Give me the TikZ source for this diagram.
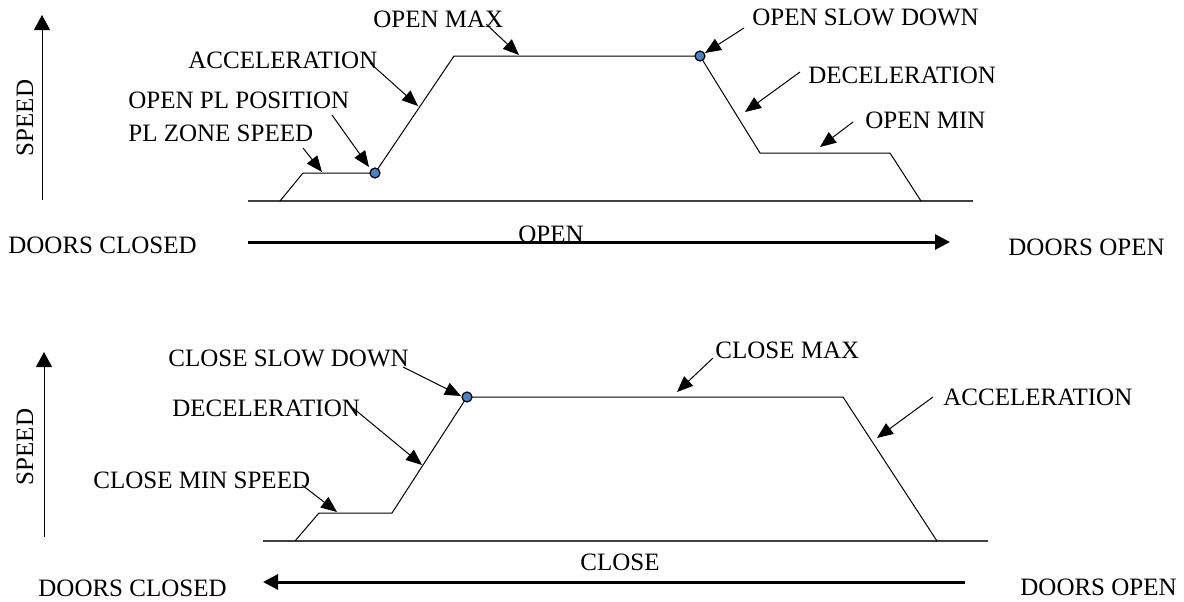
\documentclass[tikz,border=0pt]{standalone}
\usepackage{fontspec}
\setmainfont{Liberation Serif}
\usetikzlibrary{arrows.meta}
\definecolor{dotblue}{RGB}{70,130,200}
\begin{document}
\begin{tikzpicture}[x=0.5pt,y=-0.5pt,
  lbl/.style={inner sep=0pt,anchor=west,font=\fontsize{12.5}{14}\selectfont},
  prof/.style={line width=0.5pt},
  base/.style={line width=0.8pt,draw=black!75},
  leader/.style={line width=0.5pt,-{Triangle[length=8pt,width=6.5pt]}},
  axis/.style={line width=0.5pt,-{Triangle[length=7.5pt,width=8pt]}},
  dirarrow/.style={line width=1.5pt,-{Triangle[length=7.5pt,width=7.5pt]}},
  pt/.style={circle,draw=black,fill=dotblue,line width=0.6pt,inner sep=0pt,minimum size=5pt}]
\useasboundingbox (0,0) rectangle (1184,601);

% ===== TOP (OPEN) =====
\coordinate (ts0) at (42,200);
\coordinate (ts1) at (42,15);
\draw[axis] (ts0) -- (ts1);
\node[lbl,anchor=center,rotate=90] (tspeed) at (25,118) {SPEED};

\coordinate (tb0) at (248,201);
\coordinate (tb1) at (973,201);
\draw[base] (tb0) -- (tb1);

\coordinate (p1) at (280,201);
\coordinate (p2) at (303,173);
\coordinate (p3) at (375,173);
\coordinate (p4) at (454,56);
\coordinate (p5) at (700,56);
\coordinate (p6) at (760,153);
\coordinate (p7) at (890,153);
\coordinate (p8) at (921,201);
\draw[prof] (p1) -- (p2) -- (p3) -- (p4) -- (p5) -- (p6) -- (p7) -- (p8);

\node[lbl] (openmax) at (373,19) {OPEN MAX};
\node[lbl] (tacc) at (188,60) {ACCELERATION};
\node[lbl] (oplpos) at (128,100) {OPEN PL POSITION};
\node[lbl] (plzone) at (128,133) {PL ZONE SPEED};
\node[lbl] (oslow) at (752,17) {OPEN SLOW DOWN};
\node[lbl] (tdec) at (808,75) {DECELERATION};
\node[lbl] (omin) at (865,120) {OPEN MIN};

\coordinate (a1s) at (486,24);  \coordinate (a1e) at (519,55);
\coordinate (a2s) at (370,63);  \coordinate (a2e) at (418,106);
\coordinate (a3s) at (332,115); \coordinate (a3e) at (369,167);
\coordinate (a4s) at (303,148); \coordinate (a4e) at (322,172);
\coordinate (a5s) at (744,28);  \coordinate (a5e) at (705,53);
\coordinate (a6s) at (800,72);  \coordinate (a6e) at (745,112);
\coordinate (a7s) at (853,122); \coordinate (a7e) at (820,147);
\draw[leader] (a1s) -- (a1e);
\draw[leader] (a2s) -- (a2e);
\draw[leader] (a3s) -- (a3e);
\draw[leader] (a4s) -- (a4e);
\draw[leader] (a5s) -- (a5e);
\draw[leader] (a6s) -- (a6e);
\draw[leader] (a7s) -- (a7e);

\node[pt] (dot1) at (p3) {};
\node[pt] (dot2) at (p5) {};

\coordinate (oa0) at (248,242);
\coordinate (oa1) at (950,242);
\draw[dirarrow] (oa0) -- (oa1);
\node[lbl,anchor=base west] (opentxt) at (518,242) {OPEN};
\node[lbl] (dclosed1) at (8,245) {DOORS CLOSED};
\node[lbl] (dopen1) at (1008,247) {DOORS OPEN};

% ===== BOTTOM (CLOSE) =====
\coordinate (bs0) at (44,537);
\coordinate (bs1) at (44,352);
\draw[axis] (bs0) -- (bs1);
\node[lbl,anchor=center,rotate=90] (bspeed) at (25,447) {SPEED};

\coordinate (bb0) at (263,541);
\coordinate (bb1) at (988,541);
\draw[base] (bb0) -- (bb1);

\coordinate (q1) at (295,541);
\coordinate (q2) at (319,513);
\coordinate (q3) at (392,513);
\coordinate (q4) at (467,397);
\coordinate (q5) at (843,397);
\coordinate (q6) at (937,541);
\draw[prof] (q1) -- (q2) -- (q3) -- (q4) -- (q5) -- (q6);

\node[lbl] (cslow) at (168,358) {CLOSE SLOW DOWN};
\node[lbl] (bdec) at (172,408) {DECELERATION};
\node[lbl] (cmin) at (93,480) {CLOSE MIN SPEED};
\node[lbl] (cmax) at (715,350) {CLOSE MAX};
\node[lbl] (bacc) at (943,397) {ACCELERATION};

\coordinate (b1s) at (403,367); \coordinate (b1e) at (461,396);
\coordinate (b2s) at (353,408); \coordinate (b2e) at (422,465);
\coordinate (b3s) at (302,485); \coordinate (b3e) at (337,512);
\coordinate (b4s) at (713,358); \coordinate (b4e) at (677,392);
\coordinate (b5s) at (933,397); \coordinate (b5e) at (877,438);
\draw[leader] (b1s) -- (b1e);
\draw[leader] (b2s) -- (b2e);
\draw[leader] (b3s) -- (b3e);
\draw[leader] (b4s) -- (b4e);
\draw[leader] (b5s) -- (b5e);

\node[pt] (dot3) at (q4) {};

\coordinate (ca0) at (965,582);
\coordinate (ca1) at (263,582);
\draw[dirarrow] (ca0) -- (ca1);
\node[lbl] (closetxt) at (580,562) {CLOSE};
\node[lbl] (dclosed2) at (38,588) {DOORS CLOSED};
\node[lbl] (dopen2) at (1020,587) {DOORS OPEN};
\end{tikzpicture}
\end{document}
